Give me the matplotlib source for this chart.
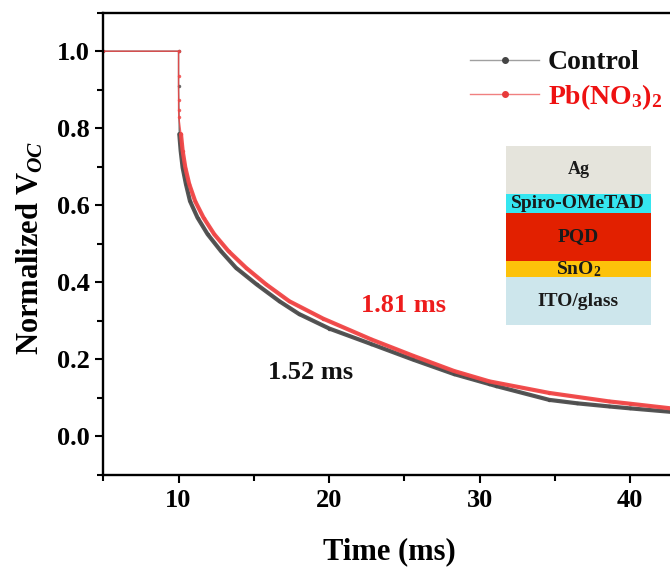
"""Normalized Voc decay: Control vs Pb(NO3)2."""

import matplotlib

matplotlib.use("Agg")

import matplotlib.pyplot as plt  # noqa: E402
import numpy as np  # noqa: E402
from matplotlib.lines import Line2D  # noqa: E402

plt.rcParams["font.family"] = ["Liberation Serif", "DejaVu Serif"]
plt.rcParams["font.weight"] = "bold"
plt.rcParams["mathtext.fontset"] = "custom"
plt.rcParams["mathtext.rm"] = "Liberation Serif:bold"
plt.rcParams["mathtext.it"] = "Liberation Serif:bold:italic"
plt.rcParams["mathtext.bf"] = "Liberation Serif:bold"

# values
t_ctrl = [5, 10.0, 10.0, 10.05, 10.14, 10.27, 10.49, 10.76, 11.26, 11.93, 12.82,
          13.81, 15.18, 16.7, 18.0, 20.02, 22.8, 25.55, 28.3, 30.65, 31.09,
          34.63, 36.5, 38.6, 40.0, 42.7]
v_ctrl = [1.0, 1.0, 0.909, 0.785, 0.742, 0.698, 0.655, 0.611, 0.568, 0.525, 0.481,
          0.438, 0.395, 0.351, 0.318, 0.280, 0.240, 0.200, 0.162, 0.136, 0.131,
          0.095, 0.086, 0.078, 0.073, 0.064]

t_pb = [5, 10.0, 10.0, 10.0, 10.0, 10.02, 10.16, 10.27, 10.45, 10.71, 11.1, 11.66,
        12.37, 13.32, 14.48, 15.81, 17.36, 19.6, 22.8, 25.55, 28.3, 30.65,
        34.63, 38.6, 40.0, 42.7]
v_pb = [1.0, 1.0, 0.936, 0.874, 0.848, 0.828, 0.785, 0.742, 0.698, 0.655, 0.611, 0.568,
        0.525, 0.481, 0.438, 0.395, 0.351, 0.306, 0.252, 0.210, 0.170, 0.143,
        0.113, 0.091, 0.085, 0.073]

series_labels = ["Control", r"Pb(NO$_3$)$_2$"]
lifetimes = ["1.52 ms", "1.81 ms"]

layer_names = ["ITO/glass", r"SnO$_2$", "PQD", "Spiro-OMeTAD", "Ag"]
layer_thick = [47.7, 16.6, 47.4, 19.3, 48.0]
layer_colors = ["#cde6ec", "#fdc20a", "#e22000", "#35e6f0", "#e5e4dc"]

C_BLACK = "#4d4d4d"
C_RED = "#f04646"

fig = plt.figure(figsize=(6.7, 5.67), dpi=100)
ax = fig.add_axes([103.3 / 670, 1 - 475 / 567, 602 / 670, (475 - 12.7) / 567])

for t, v, c in [(t_ctrl, v_ctrl, C_BLACK), (t_pb, v_pb, C_RED)]:
    t = np.asarray(t)
    v = np.asarray(v)
    ax.plot(t, v, color=c, lw=1.0, marker="o", ms=2.5, mew=0, alpha=0.85)
for t, v, c in [(t_ctrl, v_ctrl, C_BLACK), (t_pb, v_pb, C_RED)]:
    t = np.asarray(t)
    v = np.asarray(v)
    m = v < 0.8
    ax.plot(t[m], v[m], color=c, lw=3.0, solid_capstyle="round",
            solid_joinstyle="round", alpha=0.95)

ax.set_xlim(5, 45)
ax.set_ylim(-0.1, 1.1)
ax.set_xticks([10, 20, 30, 40])
ax.set_xticks([5, 15, 25, 35, 45], minor=True)
ax.set_yticks([0.0, 0.2, 0.4, 0.6, 0.8, 1.0])
ax.set_yticks(np.arange(-0.1, 1.11, 0.1), minor=True)
ax.yaxis.set_major_formatter(plt.FormatStrFormatter("%.1f"))
ax.tick_params(which="both", direction="out", width=1.5, labelsize=19)
ax.tick_params(which="major", length=6, pad=4)
ax.tick_params(which="minor", length=4)
for s in ax.spines.values():
    s.set_linewidth(1.7)
ax.spines["right"].set_visible(False)

ax.set_xlabel("Time (ms)", fontsize=22, fontweight="bold")
ax.xaxis.label.set_va("center")
ax.xaxis.set_label_coords(0.476, -0.167)
ax.set_ylabel(r"Normalized V$_{\mathit{OC}}$", fontsize=22, fontweight="bold")
ax.yaxis.label.set_va("center")
ax.yaxis.set_label_coords(-0.122, 0.491)

ax.text(18.8, 0.167, lifetimes[0], color="#111111", fontsize=19,
        fontweight="bold", ha="center", va="center")
ax.text(24.93, 0.341, lifetimes[1], color="#ee1c1c", fontsize=19,
        fontweight="bold", ha="center", va="center")

handles = [
    Line2D([], [], color="#a0a0a0", lw=1.0, marker="o", ms=4,
           mfc="#444444", mec="#444444"),
    Line2D([], [], color="#f08080", lw=1.0, marker="o", ms=4,
           mfc="#e83a3a", mec="#e83a3a"),
]
leg = ax.legend(handles, series_labels, loc="center left",
                bbox_to_anchor=(470 / 670, 1 - 81 / 567),
                bbox_transform=fig.transFigure, frameon=False, fontsize=20,
                handlelength=2.5, handletextpad=0.3, labelspacing=0.25,
                borderpad=0, borderaxespad=0)
for txt, c in zip(leg.get_texts(), ["#111111", "#ee1111"]):
    txt.set_color(c)
    txt.set_fontweight("bold")

# device stack inset
axi = fig.add_axes([506 / 670, 1 - 325 / 567, 144.7 / 670, 179 / 567])
bottom = 0.0
for name, h, c in zip(layer_names, layer_thick, layer_colors):
    axi.bar(0, h, bottom=bottom, width=1, color=c, edgecolor="none")
    fs = 13 if name == "Ag" else 14
    axi.text(0, bottom + h / 2, name, ha="center", va="center",
             fontsize=fs, fontweight="bold", color="#1a1a1a")
    bottom += h
axi.set_xlim(-0.5, 0.5)
axi.set_ylim(0, bottom)
axi.axis("off")

fig.savefig("out.png", dpi=100)
plt.close(fig)
